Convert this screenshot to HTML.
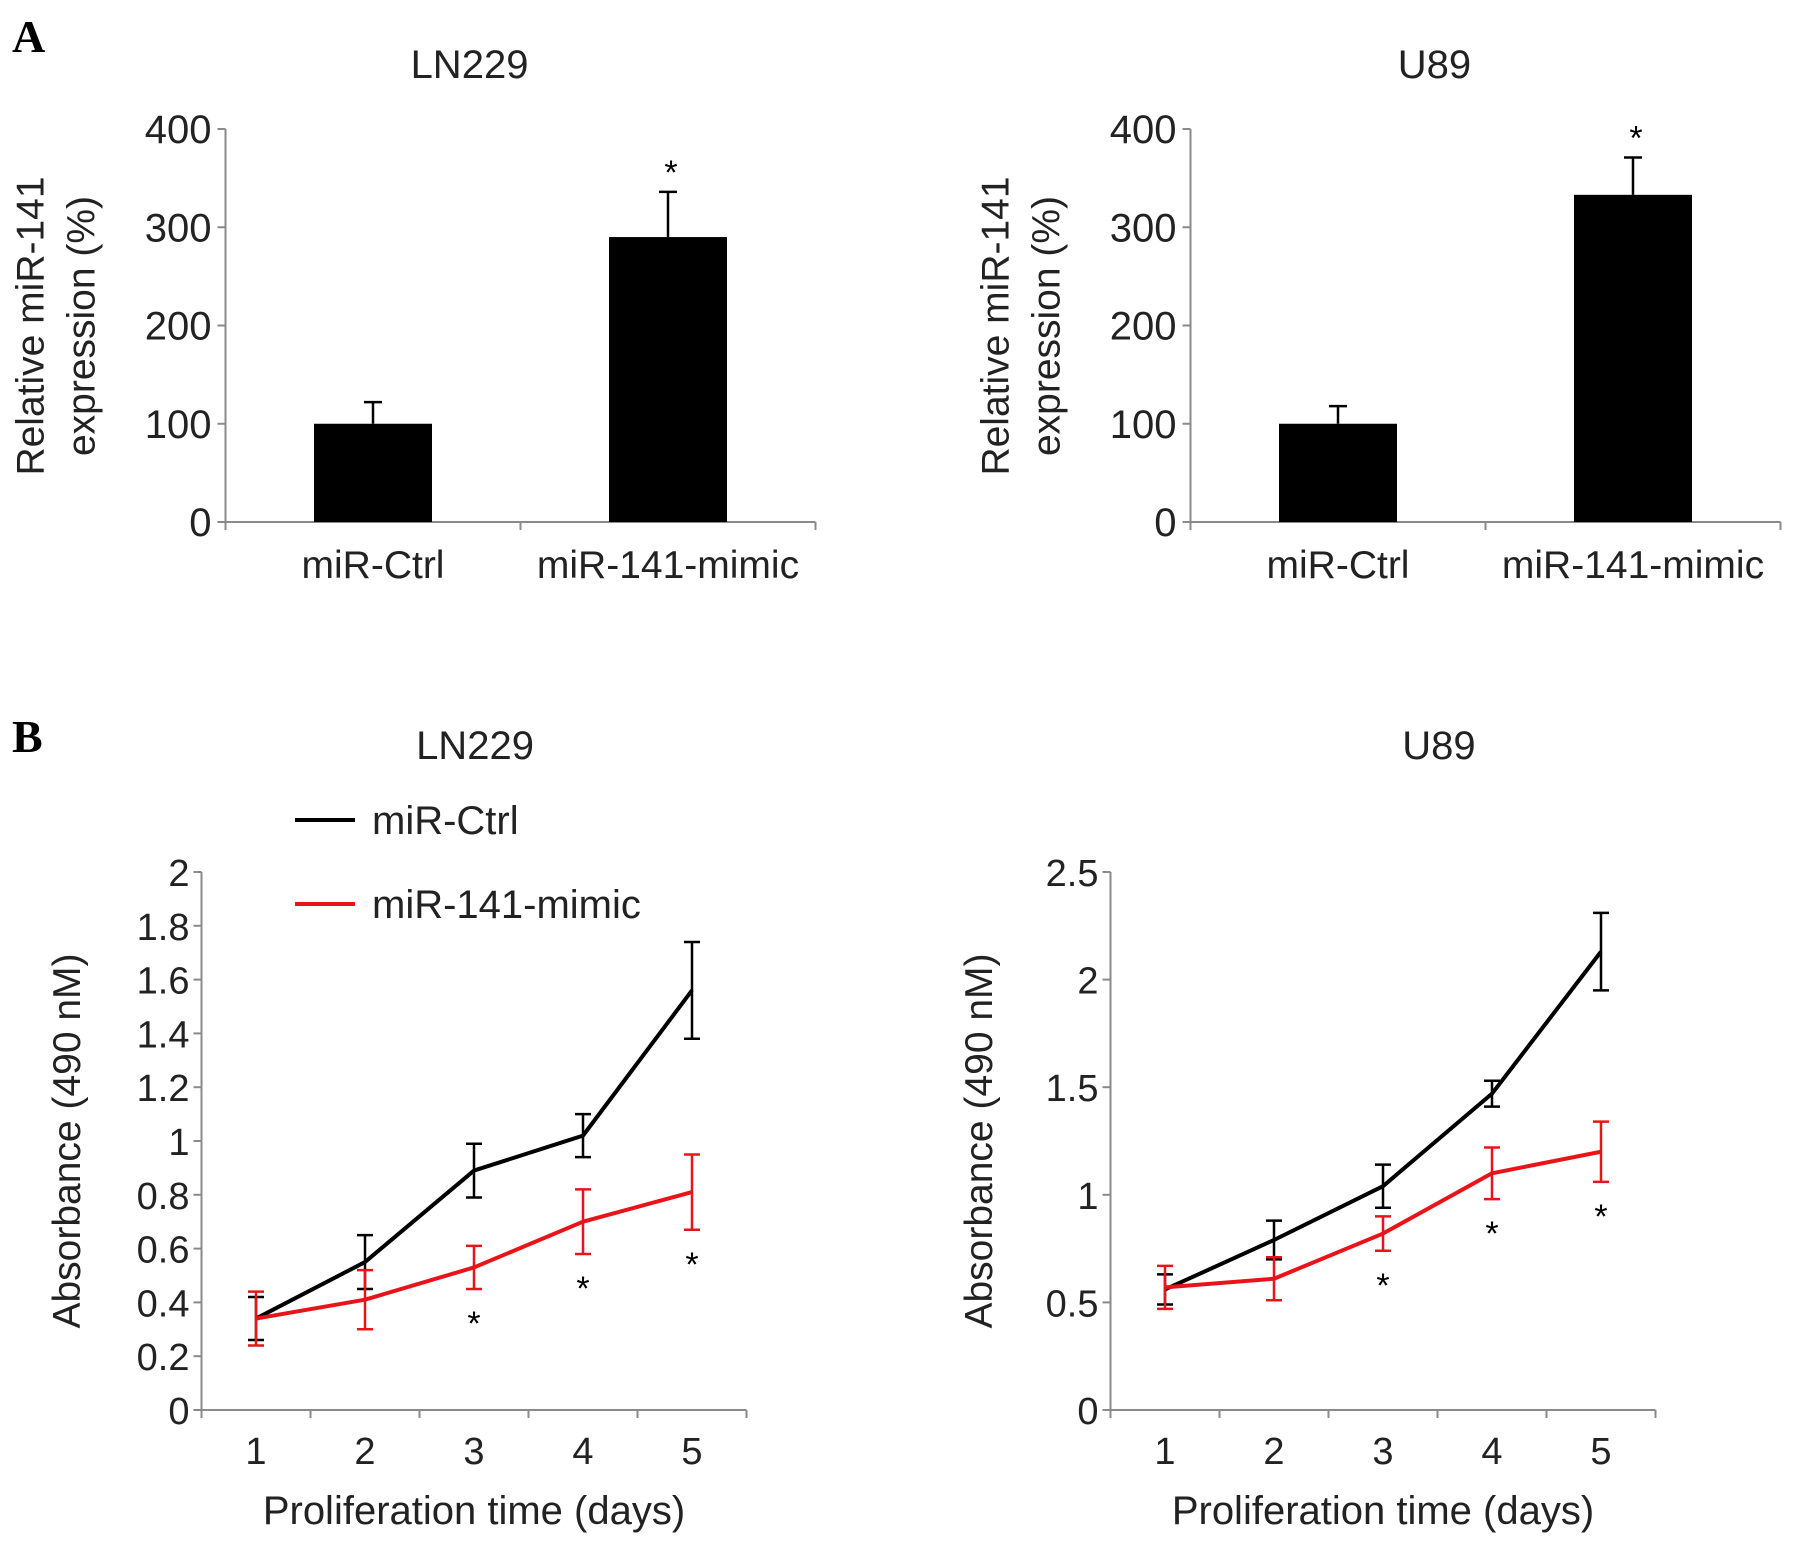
<!DOCTYPE html>
<html><head><meta charset="utf-8"><style>
html,body{margin:0;padding:0;background:#fff;}
svg{display:block;font-family:"Liberation Sans",Arial,sans-serif;}
</style></head><body>
<svg id="fig" width="1795" height="1543" viewBox="0 0 1795 1543">
<text x="12" y="52" font-family="Liberation Serif" font-weight="bold" font-size="46">A</text>
<text x="12" y="752" font-family="Liberation Serif" font-weight="bold" font-size="46">B</text>
</svg>
<script>
const barCats = ["miR-Ctrl","miR-141-mimic"];
const barLN229 = [100, 290];
const barLN229Err = [22, 46];
const barU89 = [100, 333];
const barU89Err = [18, 38];
const barTicks = [0,100,200,300,400];
const days = [1,2,3,4,5];
const lnCtrl = [0.34,0.55,0.89,1.02,1.56];
const lnCtrlErr = [0.08,0.10,0.10,0.08,0.18];
const lnMimic = [0.34,0.41,0.53,0.70,0.81];
const lnMimicErr = [0.10,0.11,0.08,0.12,0.14];
const u89Ctrl = [0.56,0.79,1.04,1.47,2.13];
const u89CtrlErr = [0.07,0.09,0.10,0.06,0.18];
const u89Mimic = [0.57,0.61,0.82,1.10,1.20];
const u89MimicErr = [0.10,0.10,0.08,0.12,0.14];
const lnTicks = [0,0.2,0.4,0.6,0.8,1,1.2,1.4,1.6,1.8,2];
const u89Ticks = [0,0.5,1,1.5,2,2.5];

const svg = document.getElementById('fig');
const NS = "http://www.w3.org/2000/svg";
function mk(tag, attrs, txt){const e=document.createElementNS(NS,tag);for(const k in attrs)e.setAttribute(k,attrs[k]);if(txt!==undefined)e.textContent=txt;svg.appendChild(e);return e;}
const AX="#8a8a8a";

function barPanel(px, title, vals, errs){
  const x0=px, x1=px+590, y0=522, y1=129, max=400;
  const Y=v=>y0-(v/max)*(y0-y1);
  let t=mk('text',{x:px+244,y:78,'font-size':40,'text-anchor':'middle',fill:'#222'},title);
  
  
  let a=mk('line',{x1:x0,y1:y1,x2:x0,y2:y0+6,stroke:AX,'stroke-width':2});
  
  
  a=mk('line',{x1:x0,y1:y0,x2:x1,y2:y0,stroke:AX,'stroke-width':2});
  
  
  [0,1,2].forEach(i=>{mk('line',{x1:x0+i*295,y1:y0,x2:x0+i*295,y2:y0+8,stroke:AX,'stroke-width':2});});
  barTicks.forEach(v=>{
    mk('line',{x1:x0-8,y1:Y(v),x2:x0,y2:Y(v),stroke:AX,'stroke-width':2});
    const l=mk('text',{x:x0-14,y:Y(v)+14,'font-size':40,'text-anchor':'end',fill:'#222'},v);
    
    
  });
  const yt=mk('text',{transform:`translate(${px-182},326) rotate(-90)`,'font-size':39,'text-anchor':'middle',fill:'#222'});
  
  
  const s1=document.createElementNS(NS,'tspan');s1.setAttribute('x',0);s1.setAttribute('y',0);s1.textContent='Relative miR-141';yt.appendChild(s1);
  const s2=document.createElementNS(NS,'tspan');s2.setAttribute('x',0);s2.setAttribute('y',51);s2.textContent='expression (%)';yt.appendChild(s2);
  vals.forEach((v,i)=>{
    const cx=x0+147.5+i*295;
    const b=mk('rect',{x:cx-59,y:Y(v),width:118,height:y0-Y(v),fill:'#000'});
    
    
    mk('line',{x1:cx,y1:Y(v),x2:cx,y2:Y(v+errs[i]),stroke:'#000','stroke-width':2.5});
    mk('line',{x1:cx-9,y1:Y(v+errs[i]),x2:cx+9,y2:Y(v+errs[i]),stroke:'#000','stroke-width':2.5});
    const c=mk('text',{x:cx,y:578,'font-size':39,'text-anchor':'middle',fill:'#222'},barCats[i]);
    
    
    if(i===1){const st=mk('text',{x:cx+3,y:Y(v+errs[i])-8,'font-size':34,'text-anchor':'middle',fill:'#000'},'*');
      
      }
  });
}
barPanel(225.5,'LN229',barLN229,barLN229Err);
barPanel(1190.5,'U89',barU89,barU89Err);

function linePanel(px, title, titleX, ticks, max, ctrl, ce, mim, me, ytx, starOff){
  const x0=px, y0=1410, y1=872, step=109;
  const X=d=>x0+54.5+(d-1)*step;
  const Y=v=>y0-(v/max)*(y0-y1);
  let t=mk('text',{x:titleX,y:759,'font-size':40,'text-anchor':'middle',fill:'#222'},title);
  
  
  let a=mk('line',{x1:x0,y1:y1,x2:x0,y2:y0+6,stroke:AX,'stroke-width':2});
  
  
  a=mk('line',{x1:x0,y1:y0,x2:x0+545,y2:y0,stroke:AX,'stroke-width':2});
  
  
  for(let i=0;i<=5;i++)mk('line',{x1:x0+i*step,y1:y0,x2:x0+i*step,y2:y0+8,stroke:AX,'stroke-width':2});
  ticks.forEach(v=>{
    mk('line',{x1:x0-8,y1:Y(v),x2:x0,y2:Y(v),stroke:AX,'stroke-width':2});
    const l=mk('text',{x:x0-12,y:Y(v)+14,'font-size':38,'text-anchor':'end',fill:'#222'},v);
    
    
  });
  days.forEach(d=>{
    const l=mk('text',{x:X(d),y:1464,'font-size':38,'text-anchor':'middle',fill:'#222'},d);
    
    
  });
  let xt=mk('text',{x:X(3),y:1524,'font-size':40,'text-anchor':'middle',fill:'#222'},'Proliferation time (days)');
  
  
  let yt=mk('text',{transform:`translate(${ytx},1141) rotate(-90)`,'font-size':39,'text-anchor':'middle',fill:'#222'},'Absorbance (490 nM)');
  
  
  [[ctrl,ce,'#000','ctrl'],[mim,me,'#e8141a','mimic']].forEach(([vals,errs,col,nm])=>{
    const pl=mk('polyline',{points:vals.map((v,i)=>X(days[i])+','+Y(v)).join(' '),fill:'none',stroke:col,'stroke-width':4,'stroke-linejoin':'round'});
    
    
    vals.forEach((v,i)=>{
      const cx=X(days[i]);
      const e=mk('path',{d:`M${cx},${Y(v-errs[i])}V${Y(v+errs[i])}M${cx-8},${Y(v-errs[i])}h16M${cx-8},${Y(v+errs[i])}h16`,stroke:col,'stroke-width':2.5,fill:'none'});
      
      
    });
  });
  [2,3,4].forEach(i=>{
    const st=mk('text',{x:X(days[i]),y:Y(mim[i]-me[i])+starOff,'font-size':34,'text-anchor':'middle',fill:'#000'},'*');
    
    
  });
}
linePanel(201.5,'LN229',475,lnTicks,2,lnCtrl,lnCtrlErr,lnMimic,lnMimicErr,80,46);
linePanel(1110.5,'U89',1439,u89Ticks,2.5,u89Ctrl,u89CtrlErr,u89Mimic,u89MimicErr,992,46);

[['#000','miR-Ctrl',820],['#e8141a','miR-141-mimic',904]].forEach(([c,t,y])=>{
  const l=mk('line',{x1:295,y1:y,x2:355,y2:y,stroke:c,'stroke-width':4});
  
  
  const tx=mk('text',{x:372,y:y+14,'font-size':40,fill:'#222'},t);
  
  
});
</script>
</body></html>
